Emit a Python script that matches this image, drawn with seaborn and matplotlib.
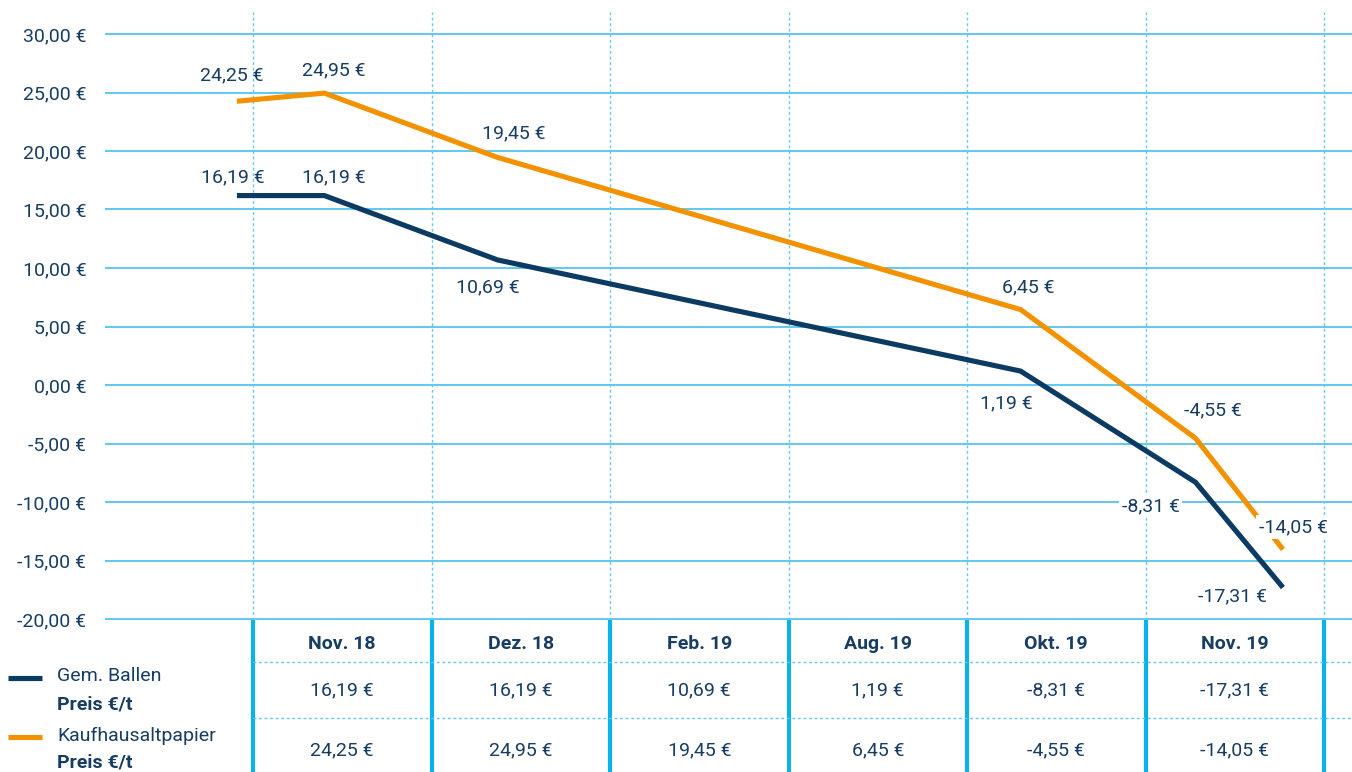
import matplotlib
matplotlib.use("Agg")
import matplotlib.pyplot as plt
import seaborn as sns
import pandas as pd
from matplotlib.ticker import FuncFormatter

# ---------------- data ----------------
months = ["Nov. 18", "Dez. 18", "Feb. 19", "Aug. 19", "Okt. 19", "Nov. 19"]
x_pos = [-0.09, 0.40, 1.37, 4.30, 5.28, 5.77]
gem_ballen = [16.19, 16.19, 10.69, 1.19, -8.31, -17.31]
kaufhaus = [24.25, 24.95, 19.45, 6.45, -4.55, -14.05]
series_names = ["Gem. Ballen", "Kaufhausaltpapier"]
y_ticks = [-20, -15, -10, -5, 0, 5, 10, 15, 20, 25, 30]

NAVY = "#0b3a63"
TEXT = "#173d63"
ORANGE = "#f39200"
GRID = "#35b9e9"
VGRID = "#5fc9f0"
TABLE = "#0bb1e9"
FS = 14


def euro(v):
    return f"{v:.2f}".replace(".", ",") + " €"


sns.set_theme(style="white")
plt.rcParams["font.family"] = ["Roboto", "DejaVu Sans"]

W, H = 1352, 772
fig = plt.figure(figsize=(W / 100, H / 100), dpi=100)

# main chart axes: px x 105..1352, y 12..620
ax = fig.add_axes([105 / W, 1 - 620 / H, (W - 105) / W, (620 - 12) / H])
colw = 178.5
ax.set_xlim((105 - 253) / colw, (W - 253) / colw)
ppu = (619 - 34) / 50.0
ax.set_ylim(-20 - 1 / ppu, 30 + 22 / ppu)

df = pd.DataFrame({
    "x": x_pos * 2,
    "value": gem_ballen + kaufhaus,
    "series": [series_names[0]] * len(x_pos) + [series_names[1]] * len(x_pos),
})
sns.lineplot(data=df, x="x", y="value", hue="series",
             palette={series_names[0]: NAVY, series_names[1]: ORANGE},
             linewidth=3.7, ax=ax, legend=False, sort=False, zorder=4)
for ln in ax.get_lines():
    ln.set_solid_capstyle("butt")
    ln.set_solid_joinstyle("miter")

# grid
for t in y_ticks:
    ax.axhline(t, color=GRID, lw=1.1, zorder=1)
for i in range(7):
    ax.axvline(i, color=VGRID, lw=1.0, ls=(0, (2, 2)), zorder=1)

ax.set_yticks(y_ticks)
ax.yaxis.set_major_formatter(FuncFormatter(lambda v, p: euro(v)))
ax.tick_params(axis="y", length=0, pad=13.5, labelsize=FS, labelcolor=TEXT)
ax.set_xticks([])
ax.set_xlabel("")
ax.set_ylabel("")
for s in ax.spines.values():
    s.set_visible(False)

# data labels (offsets in pixels)
gem_off = [(-4, 18), (9, 18), (-10, -27), (-14, -32), (-45, -24), (-51, -9)]
kau_off = [(-5, 26), (9, 23), (16, 24), (8, 22), (17, 28), (10, 22)]
for vals, offs, boxed in ((gem_ballen, gem_off, [4]), (kaufhaus, kau_off, [5])):
    for i, (xv, yv) in enumerate(zip(x_pos, vals)):
        kw = {}
        if i in boxed:
            kw["bbox"] = dict(boxstyle="square,pad=0.15", fc="white", ec="none")
        ax.annotate(euro(yv), xy=(xv, yv), xytext=offs[i], textcoords="offset pixels",
                    ha="center", va="center", fontsize=FS, color=TEXT, zorder=6, **kw)

# ---------------- table ----------------
tax = fig.add_axes([0, 0, 1, (H - 620) / H])
tax.set_xlim(-253 / colw, (W - 253) / colw)
tax.set_ylim(1, 0)
tax.axis("off")
for i in range(7):
    tax.plot([i, i], [0, 1], color=TABLE, lw=3.0, solid_capstyle="butt")
for yy in (0.276, 0.645):
    tax.plot([0, (W - 253) / colw], [yy, yy], color=VGRID, lw=1.0, ls=(0, (2, 2)))
for i, m in enumerate(months):
    cx = i + 0.5
    tax.text(cx, 0.155, m, ha="center", va="center", fontsize=FS,
             fontweight="bold", color=TEXT)
    tax.text(cx, 0.46, euro(gem_ballen[i]), ha="center", va="center",
             fontsize=FS, color=TEXT)
    tax.text(cx, 0.86, euro(kaufhaus[i]), ha="center", va="center",
             fontsize=FS, color=TEXT)

# legend
x0, x1, xt = (8 - 253) / colw, (42 - 253) / colw, (57 - 253) / colw
for (name, col, ys, yb) in ((series_names[0], NAVY, 0.38, 0.555),
                            (series_names[1], ORANGE, 0.77, 0.94)):
    tax.plot([x0, x1], [ys, ys], color=col, lw=3.7, solid_capstyle="butt")
    tax.text(xt, ys - 0.01, name, ha="left", va="center", fontsize=FS, color=TEXT)
    tax.text(xt, yb, "Preis €/t", ha="left", va="center", fontsize=FS,
             fontweight="bold", color=TEXT)

fig.savefig("out.png", dpi=100)
